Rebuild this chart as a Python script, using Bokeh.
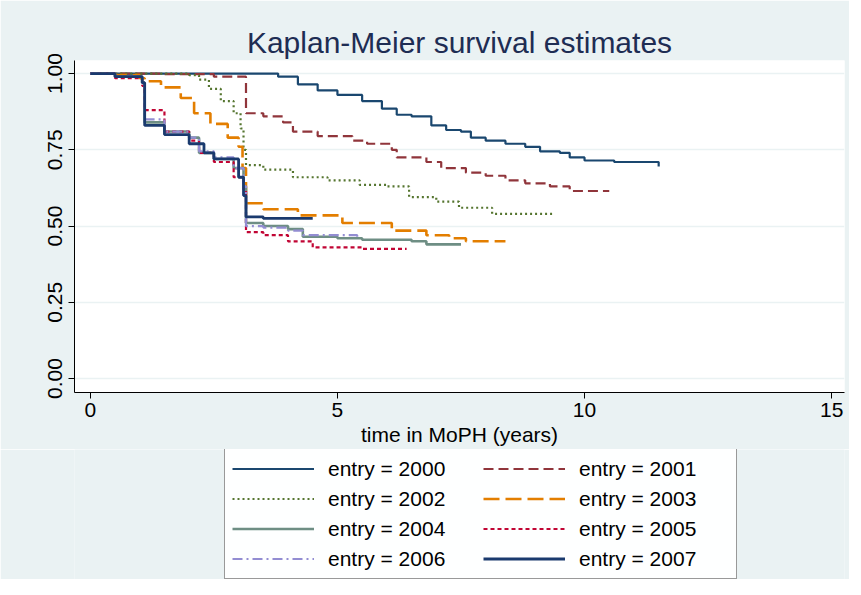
from bokeh.plotting import figure
from bokeh.models import Legend, LegendItem, Range1d, FixedTicker
from bokeh.layouts import column
from bokeh.embed import file_html
from bokeh.resources import INLINE

t2000 = [0, 3.6, 3.8, 4.2, 4.6, 5.0, 5.5, 5.9, 6.2, 6.5, 6.9, 7.2, 7.5, 7.7, 8.0, 8.4, 8.8, 9.1, 9.5, 9.7, 10.0, 10.6, 11.5]
s2000 = [1.0, 1.0, 0.99, 0.965, 0.945, 0.93, 0.91, 0.885, 0.865, 0.86, 0.83, 0.815, 0.81, 0.79, 0.78, 0.77, 0.76, 0.745, 0.74, 0.725, 0.715, 0.71, 0.695]
t2001 = [0, 1.5, 2.5, 3.15, 3.5, 3.9, 4.1, 4.6, 5.3, 5.6, 6.1, 6.2, 6.8, 7.1, 7.6, 8.0, 8.4, 8.8, 9.3, 9.7, 10.5]
s2001 = [1.0, 0.998, 0.99, 0.87, 0.86, 0.84, 0.81, 0.795, 0.78, 0.77, 0.75, 0.725, 0.71, 0.69, 0.675, 0.665, 0.65, 0.64, 0.63, 0.615, 0.615]
t2002 = [0, 2.0, 2.2, 2.4, 2.64, 2.9, 3.04, 3.1, 3.15, 3.5, 4.1, 4.8, 5.45, 6.0, 6.45, 7.0, 7.46, 8.13, 9.4]
s2002 = [1.0, 0.995, 0.98, 0.95, 0.91, 0.87, 0.82, 0.75, 0.70, 0.685, 0.66, 0.65, 0.635, 0.63, 0.595, 0.58, 0.56, 0.54, 0.54]
t2003 = [0, 0.5, 1.0, 1.1, 1.43, 1.83, 2.1, 2.43, 2.78, 3.0, 3.08, 3.15, 3.5, 4.2, 5.1, 6.1, 6.8, 7.26, 7.6, 8.4]
s2003 = [1.0, 0.995, 0.985, 0.975, 0.955, 0.92, 0.87, 0.835, 0.79, 0.76, 0.69, 0.575, 0.555, 0.535, 0.51, 0.485, 0.47, 0.46, 0.45, 0.45]
t2004 = [0, 0.5, 1.05, 1.1, 1.5, 2.0, 2.2, 2.5, 2.9, 3.1, 3.15, 3.5, 4.0, 4.3, 5.0, 5.5, 6.5, 6.8, 7.5]
s2004 = [1.0, 0.99, 0.97, 0.84, 0.81, 0.79, 0.74, 0.72, 0.69, 0.63, 0.51, 0.50, 0.49, 0.465, 0.46, 0.455, 0.45, 0.44, 0.44]
t2005 = [0, 0.5, 1.05, 1.1, 1.5, 2.0, 2.2, 2.5, 2.9, 3.1, 3.15, 3.5, 4.0, 4.5, 5.5, 6.4]
s2005 = [1.0, 0.985, 0.96, 0.88, 0.81, 0.78, 0.74, 0.71, 0.66, 0.62, 0.48, 0.47, 0.45, 0.43, 0.425, 0.425]
t2006 = [0, 0.5, 1.05, 1.1, 1.5, 2.0, 2.2, 2.5, 2.9, 3.1, 3.15, 3.5, 4.0, 4.3, 5.4]
s2006 = [1.0, 0.99, 0.97, 0.85, 0.81, 0.79, 0.745, 0.725, 0.69, 0.63, 0.50, 0.495, 0.485, 0.47, 0.465]
t2007 = [0, 0.5, 1.05, 1.1, 1.5, 2.0, 2.3, 2.5, 3.0, 3.1, 3.15, 3.5, 4.5]
s2007 = [1.0, 0.99, 0.97, 0.83, 0.80, 0.77, 0.74, 0.72, 0.66, 0.60, 0.53, 0.525, 0.525]

labels = ["entry = 2000", "entry = 2001", "entry = 2002", "entry = 2003",
          "entry = 2004", "entry = 2005", "entry = 2006", "entry = 2007"]
series = [(t2000, s2000), (t2001, s2001), (t2002, s2002), (t2003, s2003),
          (t2004, s2004), (t2005, s2005), (t2006, s2006), (t2007, s2007)]
colors = ["#1a476f", "#90353b", "#55752f", "#e37e00", "#6e8e84", "#c10534", "#938dd2", "#1a3a6e"]
dashes = ["solid", "10 5", "2 3", "16 6", "solid", "4 3", "10 4 2 4", "solid"]
widths = [2.2, 2.2, 2.2, 2.6, 2.6, 2.2, 2.2, 2.8]

FONT = "Liberation Sans"
BG = "#eaf2f3"
FS = "21px"
p = figure(width=849, height=449, output_backend="svg", toolbar_location=None,
           x_range=Range1d(-0.32, 15.26), y_range=Range1d(-0.046, 1.043),
           min_border_left=74, min_border_right=5, min_border_top=60, min_border_bottom=57)
p.border_fill_color = BG
p.background_fill_color = "white"
p.outline_line_color = None
p.title.text = "Kaplan-Meier survival estimates"
p.title.align = "center"
p.title.text_font = FONT
p.title.text_font_size = "30px"
p.title.text_font_style = "normal"
p.title.text_color = "#1e2d53"
p.title.standoff = 3

p.xaxis.ticker = FixedTicker(ticks=[0, 5, 10, 15])
p.yaxis.ticker = FixedTicker(ticks=[0, 0.25, 0.5, 0.75, 1.0])
p.yaxis.major_label_overrides = {0: "0.00", 0.25: "0.25", 0.5: "0.50", 0.75: "0.75", 1.0: "1.00"}
p.yaxis.major_label_orientation = "parallel"
p.yaxis.major_label_standoff = 6
p.xaxis.major_label_standoff = 4
p.xaxis.axis_label = "time in MoPH (years)"
for ax in (p.xaxis, p.yaxis):
    ax.major_label_text_font = FONT
    ax.major_label_text_font_size = FS
    ax.major_label_text_color = "black"
    ax.axis_label_text_font = FONT
    ax.axis_label_text_font_size = FS
    ax.axis_label_text_font_style = "normal"
    ax.axis_label_text_color = "black"
    ax.minor_tick_line_color = None
    ax.major_tick_out = 6
    ax.major_tick_in = 0
    ax.axis_line_color = "black"
    ax.major_tick_line_color = "black"
p.xaxis.axis_label_standoff = 3
p.xgrid.grid_line_color = None
p.ygrid.grid_line_color = BG
p.ygrid.grid_line_width = 1.5

p2 = figure(width=849, height=130, output_backend="svg", toolbar_location=None,
            x_range=Range1d(0, 1), y_range=Range1d(10, 11),
            min_border_left=0, min_border_right=0, min_border_top=0, min_border_bottom=0)
p2.axis.visible = False
p2.grid.visible = False
p2.outline_line_color = None
p2.background_fill_color = BG
p2.border_fill_color = BG

items = {}
for lab, (t, s), c, d, w in zip(labels, series, colors, dashes, widths):
    p.step(t, s, mode="after", line_color=c, line_dash=d, line_width=w)
    r2 = p2.line(t, s, line_color=c, line_dash=d, line_width=w)
    items[lab] = LegendItem(label=lab, renderers=[r2])

order = [0, 2, 4, 6, 1, 3, 5, 7]
legend = Legend(items=[items[labels[i]] for i in order], ncols=2, location=(150, 0),
                label_text_font=FONT, label_text_font_size=FS, label_text_color="black",
                glyph_width=82, glyph_height=25, label_height=25, label_width=150,
                spacing=5, padding=7, label_standoff=14,
                border_line_color="#333333", border_line_width=1,
                background_fill_color="white")
p2.add_layout(legend)

open("out.html", "w").write(file_html(column(p, p2, spacing=0), INLINE))
